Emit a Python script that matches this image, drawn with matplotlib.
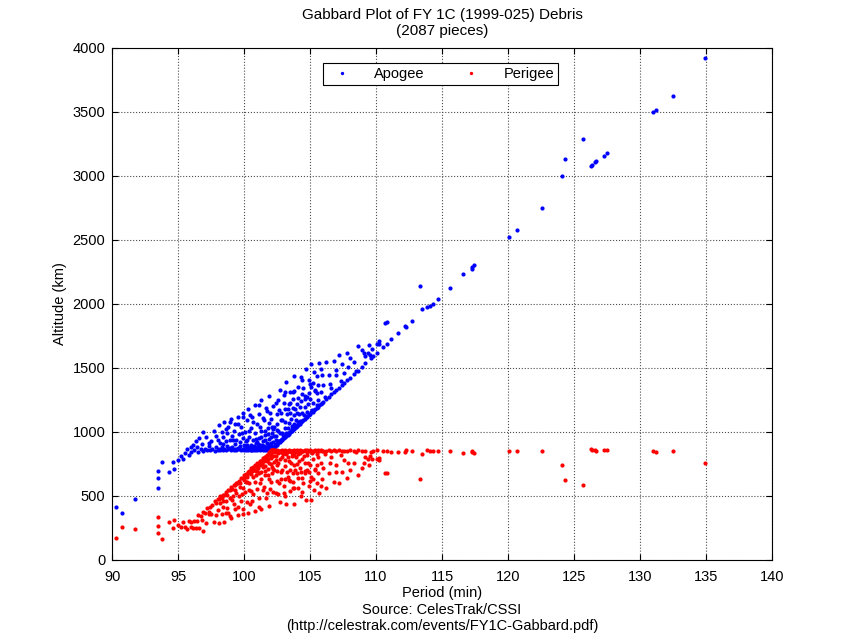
import matplotlib.pyplot as plt

plt.rcParams["font.family"] = ["Liberation Sans", "DejaVu Sans"]
plt.rcParams["font.size"] = 10.5

# Debris pieces: period (min), apogee (km), perigee (km)
period = [
    90.3, 90.75, 91.7, 93.5, 93.5, 93.5, 93.8, 94.3, 94.6, 94.7,
    95.0, 95.2, 95.4, 95.5, 95.7, 95.8, 96.0, 96.1, 96.2, 96.4,
    96.5, 96.6, 96.7, 96.8, 96.9, 97.0, 97.1, 97.2, 97.3, 97.4,
    97.5, 97.6, 97.7, 97.8, 97.9, 98.0, 98.0, 98.1, 98.1, 98.2,
    98.2, 98.3, 98.3, 98.4, 98.4, 98.5, 98.5, 98.6, 98.6, 98.7,
    98.7, 98.8, 98.8, 98.9, 98.9, 99.0, 99.0, 99.1, 99.1, 99.2,
    99.2, 99.3, 99.3, 99.3, 99.4, 99.4, 99.5, 99.5, 99.6, 99.6,
    99.7, 99.7, 99.8, 99.8, 99.9, 99.9, 99.9, 100.0, 100.0, 100.1,
    100.1, 100.2, 100.2, 100.2, 100.3, 100.3, 100.4, 100.4, 100.5, 100.5,
    100.5, 100.6, 100.6, 100.7, 100.7, 100.8, 100.8, 100.8, 100.9, 100.9,
    101.0, 101.0, 101.1, 101.1, 101.1, 101.2, 101.2, 101.3, 101.3, 101.3,
    101.4, 101.4, 101.5, 101.5, 101.5, 101.6, 101.6, 101.7, 101.7, 101.7,
    101.8, 101.8, 101.9, 101.9, 101.9, 102.0, 102.0, 102.0, 102.1, 102.1,
    102.2, 102.2, 102.2, 102.3, 102.3, 102.4, 102.4, 102.4, 102.5, 102.5,
    102.6, 102.6, 102.7, 102.7, 102.8, 102.8, 102.9, 102.9, 103.0, 103.0,
    103.1, 103.1, 103.1, 103.2, 103.2, 103.3, 103.3, 103.4, 103.4, 103.5,
    103.5, 103.5, 103.6, 103.6, 103.7, 103.7, 103.8, 103.8, 103.8, 103.9,
    103.9, 104.0, 104.0, 104.1, 104.1, 104.1, 104.2, 104.2, 104.3, 104.3,
    104.4, 104.4, 104.4, 104.5, 104.5, 104.6, 104.6, 104.7, 104.7, 104.8,
    104.8, 104.8, 104.9, 104.9, 105.0, 105.0, 105.1, 105.1, 105.1, 105.2,
    105.2, 105.3, 105.3, 105.4, 105.4, 105.5, 105.5, 105.5, 105.6, 105.6,
    105.7, 105.7, 105.8, 105.8, 105.9, 105.9, 106.0, 106.0, 106.2, 106.2,
    106.4, 106.4, 106.6, 106.6, 106.8, 106.8, 107.0, 107.0, 107.2, 107.2,
    107.4, 107.4, 107.6, 107.6, 107.8, 107.8, 108.0, 108.0, 108.3, 108.3,
    108.6, 108.6, 108.9, 108.9, 109.2, 109.2, 109.4, 109.5, 109.55, 109.6,
    109.7, 109.8, 110.1, 110.1, 110.2, 110.25, 110.5, 110.7, 110.8, 110.8,
    111.1, 111.7, 112.2, 112.3, 112.7, 113.3, 113.5, 113.9, 114.1, 114.3,
    114.7, 115.6, 116.6, 117.25, 117.3, 117.45, 120.1, 120.7, 122.6, 124.1,
    124.3, 125.7, 126.3, 126.4, 126.6, 126.7, 127.3, 127.5, 131.0, 131.2,
    132.5, 134.9,
    100.05, 100.15, 100.25, 100.35, 100.45, 100.55, 100.65, 100.75, 100.85, 100.95,
    101.05, 101.15, 101.25, 101.35, 101.45, 101.55, 101.65, 101.75, 101.85, 101.95,
    102.05, 102.15, 102.25, 102.35, 102.45, 102.55, 102.65, 102.75, 102.85, 102.95,
    103.05, 103.15, 103.25, 103.35, 103.45, 103.55, 103.65, 103.75, 103.85, 103.95,
    101.0, 101.3, 101.6, 101.9, 102.2, 102.5, 102.8, 103.1, 103.4, 103.7,
    104.0, 104.3, 104.6, 104.9, 105.2, 105.5, 102.0, 102.6, 103.2, 103.8,
    98.37, 99.12, 99.48, 99.83, 100.12, 100.38, 100.62, 100.71, 100.93, 101.08,
    101.22, 101.37, 101.44, 101.58, 101.63, 101.79, 101.84, 101.97, 102.04, 102.13,
    102.18, 102.27, 102.33, 102.42, 102.48, 102.57, 102.63, 102.72, 102.78, 102.88,
    102.93, 103.02, 103.08, 103.18, 103.27, 103.33, 103.42, 103.48, 103.57, 103.63,
    103.72, 103.78, 103.87, 103.98, 104.07, 104.17, 104.27, 104.38, 104.52, 104.63,
    104.77, 104.88, 105.03, 105.17, 105.36, 105.62, 105.84, 106.12, 106.53, 106.95,
    107.35, 107.9, 108.45, 109.05, 97.35, 97.85, 96.35, 98.65, 99.55, 100.48,
    101.12, 99.95, 98.95, 95.95, 96.85,
]

apogee = [
    417, 365, 479, 560, 693, 640, 763, 687, 763, 713,
    780, 810, 790, 835, 870, 820, 845, 900, 860, 880,
    840, 950, 865, 905, 850, 870, 960, 855, 890, 860,
    930, 865, 1010, 850, 880, 860, 940, 870, 1050, 855,
    910, 880, 1000, 862, 960, 870, 1080, 858, 925, 890,
    990, 865, 1040, 872, 935, 858, 1100, 880, 965, 862,
    1010, 870, 905, 1060, 860, 940, 875, 1120, 865, 985,
    890, 920, 860, 1040, 870, 950, 1150, 858, 900, 866,
    1000, 875, 935, 1090, 860, 1180, 868, 960, 862, 900,
    1030, 872, 1120, 858, 940, 866, 990, 1210, 875, 910,
    860, 1060, 868, 950, 1140, 862, 895, 870, 1010, 1250,
    858, 930, 865, 1090, 890, 872, 975, 862, 1160, 910,
    868, 1030, 860, 945, 1280, 866, 1100, 890, 862, 990,
    870, 1200, 920, 883, 1038, 897, 967, 1227, 901, 1137,
    918, 1006, 922, 1326, 933, 1095, 938, 995, 954, 1224,
    958, 1078, 1313, 977, 993, 979, 1182, 986, 1072, 1002,
    1311, 1151, 1007, 1046, 1019, 1260, 1023, 1135, 1440, 1041,
    1089, 1043, 1218, 1056, 1348, 1078, 1061, 1197, 1078, 1427,
    1082, 1146, 1296, 1095, 1346, 1098, 1195, 1117, 1495, 1119,
    1274, 1154, 1131, 1403, 1137, 1253, 1152, 1352, 1532, 1158,
    1222, 1173, 1471, 1176, 1321, 1188, 1440, 1210, 1193, 1370,
    1209, 1539, 1214, 1309, 1229, 1448, 1233, 1367, 1254, 1546,
    1269, 1445, 1294, 1344, 1308, 1553, 1330, 1442, 1343, 1600,
    1370, 1529, 1384, 1458, 1406, 1617, 1420, 1576, 1454, 1544,
    1478, 1673, 1509, 1641, 1541, 1589, 1615, 1677, 1602, 1576,
    1646, 1595, 1619, 1684, 1688, 1711, 1663, 1851, 1687, 1859,
    1727, 1771, 1826, 1823, 1866, 2140, 1963, 1974, 1982, 1997,
    2041, 2123, 2232, 2276, 2287, 2305, 2526, 2580, 2748, 2995,
    3135, 3289, 3078, 3083, 3109, 3117, 3156, 3180, 3495, 3516,
    3627, 3922,
    880, 862, 895, 870, 885, 858, 880, 892, 860, 884,
    875, 882, 868, 890, 878, 862, 885, 876, 880, 872,
    858, 866, 876, 893, 904, 914, 926, 932, 945, 950,
    964, 970, 982, 990, 1000, 1008, 1017, 1030, 1036, 1042,
    920, 960, 1005, 1070, 1020, 1060, 1150, 1180, 1220, 1190,
    1150, 1240, 1260, 1300, 1380, 1300, 960, 1250, 1390, 1320,
    905, 935, 868, 990, 925, 1010, 883, 1075, 945, 905,
    1035, 899, 1110, 940, 1190, 905, 985, 1150, 915, 1040,
    885, 970, 899, 934, 1015, 925, 1169, 988, 939, 1093,
    973, 1286, 1032, 981, 1140, 1030, 994, 1229, 1098, 1026,
    1312, 1058, 1182, 1055, 1265, 1140, 1086, 1404, 1133, 1278,
    1126, 1221, 1376, 1174, 1327, 1251, 1492, 1269, 1377, 1487,
    1395, 1507, 1474, 1615, 910, 965, 925, 1025, 1065, 1130,
    1210, 1120, 1080, 880, 1000,
]

perigee = [
    169, 260, 245, 338, 213, 265, 166, 296, 249, 308,
    269, 258, 297, 261, 245, 304, 298, 253, 302, 301,
    351, 250, 345, 314, 378, 368, 287, 402, 376, 415,
    355, 429, 294, 463, 443, 472, 392, 472, 292, 496,
    441, 480, 360, 508, 410, 509, 299, 531, 464, 508,
    408, 543, 368, 545, 482, 568, 326, 556, 471, 583,
    435, 585, 550, 395, 604, 524, 599, 354, 618, 498,
    603, 573, 642, 462, 641, 561, 361, 663, 621, 664,
    530, 665, 605, 450, 689, 369, 691, 599, 706, 668,
    538, 706, 458, 729, 647, 730, 606, 386, 731, 696,
    755, 555, 757, 675, 485, 772, 739, 774, 634, 394,
    795, 723, 798, 573, 773, 800, 697, 820, 522, 772,
    823, 661, 840, 755, 420, 844, 610, 820, 857, 729,
    859, 529, 809, 855, 700, 850, 780, 520, 856, 620,
    848, 760, 854, 450, 852, 690, 857, 800, 850, 580,
    855, 735, 500, 846, 830, 853, 650, 856, 770, 849,
    540, 700, 854, 815, 851, 610, 857, 745, 440, 848,
    800, 855, 680, 852, 560, 830, 856, 720, 849, 500,
    854, 790, 640, 851, 600, 857, 760, 848, 470, 855,
    700, 820, 852, 580, 856, 740, 850, 650, 470, 854,
    790, 848, 550, 855, 710, 852, 600, 830, 857, 680,
    850, 520, 855, 760, 849, 630, 854, 720, 852, 560,
    856, 680, 850, 800, 855, 610, 852, 740, 857, 600,
    849, 690, 854, 780, 851, 640, 856, 700, 850, 760,
    855, 660, 852, 720, 848, 800, 790, 740, 815, 845,
    790, 851, 855, 790, 796, 777, 849, 680, 853, 681,
    841, 845, 846, 859, 854, 633, 828, 859, 854, 854,
    854, 854, 838, 844, 850, 838, 854, 854, 854, 745,
    623, 583, 865, 862, 855, 849, 862, 862, 849, 844,
    849, 758,
    646, 673, 650, 684, 679, 715, 703, 700, 741, 727,
    745, 748, 771, 759, 780, 805, 792, 810, 816, 833,
    856, 858, 857, 850, 848, 848, 845, 848, 845, 849,
    845, 848, 846, 847, 847, 848, 848, 845, 848, 852,
    695, 684, 667, 630, 709, 697, 635, 633, 622, 680,
    748, 687, 695, 683, 632, 740, 750, 516, 433, 560,
    462, 503, 604, 515, 607, 547, 696, 513, 664, 718,
    601, 751, 547, 730, 485, 785, 710, 557, 798, 682,
    842, 765, 842, 815, 740, 838, 600, 790, 845, 700,
    825, 520, 780, 840, 690, 805, 850, 620, 760, 838,
    560, 820, 705, 842, 640, 775, 838, 530, 815, 680,
    845, 760, 620, 835, 700, 800, 580, 830, 760, 690,
    820, 760, 845, 760, 361, 353, 251, 368, 413, 436,
    417, 396, 342, 258, 224,
]

fig = plt.figure(figsize=(8.5, 6.37), dpi=100)
ax = fig.add_axes([0.132, 0.121, 0.776, 0.804])

ax.plot(period, apogee, ".", color="blue", markersize=4, label="Apogee")
ax.plot(period, perigee, ".", color="red", markersize=4, label="Perigee")

ax.set_xlim(90, 140)
ax.set_ylim(0, 4000)
ax.set_xticks(range(90, 141, 5))
ax.set_yticks(range(0, 4001, 500))
ax.grid(True, linestyle=":", color="0.3", linewidth=0.8)
ax.tick_params(direction="in", top=True, right=True, length=4)
ax.tick_params(axis="x", pad=7)
ax.tick_params(axis="y", pad=5)
for spine in ax.spines.values():
    spine.set_linewidth(0.8)

ax.set_title("Gabbard Plot of FY 1C (1999-025) Debris\n(2087 pieces)", fontsize=11, pad=9)
ax.set_xlabel("Period (min)\nSource: CelesTrak/CSSI\n(http://celestrak.com/events/FY1C-Gabbard.pdf)",
              labelpad=2)
ax.set_ylabel("Altitude (km)")

leg = ax.legend(loc="upper center", bbox_to_anchor=(0.498, 0.985), ncol=2,
                fancybox=False, edgecolor="black", framealpha=1,
                markerscale=0.7, columnspacing=2.2, handletextpad=1.2,
                borderpad=0.3)
leg.get_frame().set_linewidth(0.8)

fig.savefig("out.png", dpi=100)
